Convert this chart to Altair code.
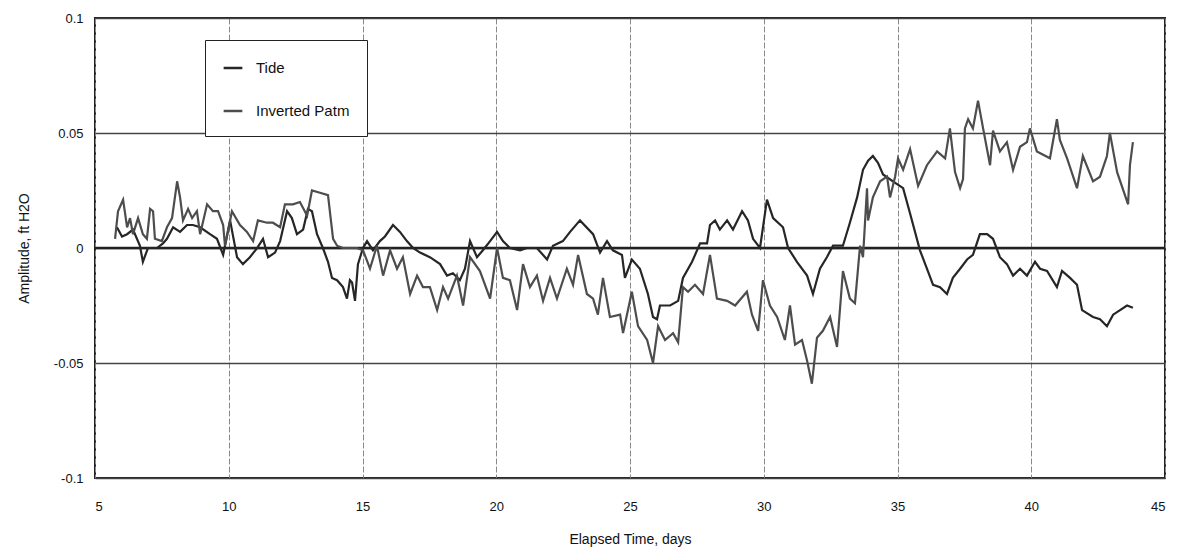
import altair as alt
import pandas as pd

series_names = ["Tide", "Inverted Patm"]

tide_days = [5.82, 6.01, 6.20, 6.42, 6.68, 6.79, 6.98, 7.32, 7.54, 7.69, 7.92, 8.18, 8.44, 8.66, 8.93,
             9.30, 9.56, 9.79, 10.05, 10.31, 10.53, 10.79, 11.06, 11.28, 11.47, 11.73, 11.92, 12.18,
             12.36, 12.55, 12.78, 12.96, 13.11, 13.30, 13.52, 13.71, 13.86, 14.05, 14.27, 14.42,
             14.53, 14.61, 14.72, 14.83, 15.02, 15.17, 15.39, 15.65, 15.84, 16.14, 16.40, 16.66,
             16.89, 17.15, 17.52, 17.90, 18.16, 18.38, 18.64, 18.83, 19.02, 19.28, 19.50, 19.77,
             20.03, 20.25, 20.51, 20.89, 21.15, 21.52, 21.90, 22.12, 22.49, 22.76, 23.13, 23.62,
             23.88, 24.14, 24.36, 24.70, 24.81, 25.07, 25.37, 25.67, 25.86, 26.01, 26.12, 26.50,
             26.80, 26.98, 27.32, 27.62, 27.88, 27.99, 28.18, 28.36, 28.63, 28.85, 29.19, 29.41,
             29.60, 29.86, 30.12, 30.35, 30.72, 30.91, 31.24, 31.62, 31.84, 32.10, 32.36, 32.59,
             32.96, 33.22, 33.49, 33.71, 33.90, 34.08, 34.27, 34.46, 34.83, 35.21, 35.47, 35.84,
             36.10, 36.33, 36.59, 36.85, 37.07, 37.34, 37.60, 37.82, 38.08, 38.35, 38.57, 38.83,
             39.09, 39.32, 39.58, 39.84, 40.14, 40.33, 40.59, 40.96, 41.15, 41.45, 41.71, 41.90,
             42.31, 42.57, 42.83, 43.06, 43.32, 43.58, 43.80]
tide_vals = [0.009, 0.005, 0.006, 0.008, 0.001, -0.006, 0.000, 0.000, 0.002, 0.004, 0.009, 0.007,
             0.010, 0.010, 0.009, 0.006, 0.004, -0.003, 0.012, -0.004, -0.007, -0.004, 0.000, 0.004,
             -0.004, -0.002, 0.003, 0.016, 0.013, 0.006, 0.008, 0.017, 0.016, 0.006, 0.000, -0.006,
             -0.013, -0.014, -0.017, -0.022, -0.014, -0.015, -0.023, -0.007, 0.000, 0.003, -0.001,
             0.003, 0.005, 0.010, 0.007, 0.003, 0.000, -0.002, -0.004, -0.007, -0.012, -0.011,
             -0.014, -0.009, 0.003, -0.004, -0.001, 0.003, 0.007, 0.003, 0.000, -0.001, 0.000,
             0.000, -0.005, 0.001, 0.003, 0.007, 0.012, 0.006, -0.002, 0.003, -0.001, -0.003,
             -0.013, -0.005, -0.009, -0.020, -0.030, -0.031, -0.025, -0.025, -0.023, -0.013,
             -0.006, 0.002, 0.002, 0.010, 0.012, 0.008, 0.012, 0.008, 0.016, 0.012, 0.004, 0.000,
             0.021, 0.013, 0.009, 0.000, -0.006, -0.012, -0.020, -0.009, -0.004, 0.001, 0.001,
             0.011, 0.022, 0.034, 0.038, 0.040, 0.037, 0.032, 0.029, 0.026, 0.015, -0.001, -0.009,
             -0.016, -0.017, -0.020, -0.013, -0.009, -0.005, -0.003, 0.006, 0.006, 0.004, -0.004,
             -0.007, -0.012, -0.009, -0.012, -0.006, -0.009, -0.010, -0.017, -0.010, -0.013,
             -0.016, -0.027, -0.030, -0.031, -0.034, -0.029, -0.027, -0.025, -0.026]

patm_days = [5.75, 5.86, 6.05, 6.20, 6.31, 6.42, 6.61, 6.79, 6.94, 7.06, 7.17, 7.24, 7.50, 7.69, 7.88,
             8.07, 8.18, 8.29, 8.48, 8.63, 8.81, 8.93, 9.19, 9.41, 9.60, 9.79, 9.86, 10.12, 10.42,
             10.68, 10.91, 11.09, 11.43, 11.65, 11.92, 12.10, 12.40, 12.66, 12.93, 13.11, 13.41,
             13.71, 13.90, 14.05, 14.27, 14.53, 14.79, 15.02, 15.28, 15.54, 15.77, 16.03, 16.29,
             16.51, 16.78, 17.04, 17.26, 17.52, 17.79, 18.01, 18.20, 18.53, 18.76, 19.02, 19.39,
             19.77, 20.03, 20.25, 20.51, 20.78, 21.00, 21.26, 21.52, 21.75, 22.01, 22.27, 22.64,
             22.87, 23.06, 23.39, 23.62, 23.80, 23.99, 24.25, 24.63, 24.74, 25.07, 25.30, 25.64,
             25.86, 26.05, 26.31, 26.61, 26.80, 26.98, 27.17, 27.43, 27.73, 27.99, 28.25, 28.63,
             28.93, 29.37, 29.56, 29.79, 29.97, 30.23, 30.50, 30.79, 30.98, 31.17, 31.43, 31.62,
             31.80, 31.99, 32.21, 32.48, 32.74, 32.96, 33.22, 33.41, 33.60, 33.71, 33.86, 33.90,
             34.08, 34.35, 34.61, 34.72, 34.91, 35.02, 35.21, 35.47, 35.77, 36.10, 36.48, 36.78,
             36.96, 37.15, 37.34, 37.45, 37.52, 37.64, 37.82, 38.01, 38.20, 38.46, 38.57, 38.83,
             39.09, 39.32, 39.58, 39.84, 39.95, 40.21, 40.70, 40.96, 41.07, 41.34, 41.71, 41.93,
             42.31, 42.57, 42.83, 42.94, 43.21, 43.62, 43.69, 43.80]
patm_vals = [0.004, 0.016, 0.021, 0.009, 0.013, 0.006, 0.013, 0.006, 0.004, 0.017, 0.016, 0.004,
             0.003, 0.009, 0.013, 0.029, 0.022, 0.012, 0.017, 0.013, 0.016, 0.006, 0.019, 0.016,
             0.016, 0.010, 0.001, 0.016, 0.010, 0.007, 0.003, 0.012, 0.011, 0.011, 0.009, 0.019,
             0.019, 0.020, 0.014, 0.025, 0.024, 0.023, 0.004, 0.001, 0.000, 0.000, 0.000, -0.001,
             -0.009, 0.001, -0.012, -0.001, -0.009, -0.004, -0.020, -0.012, -0.017, -0.017,
             -0.027, -0.017, -0.022, -0.012, -0.025, -0.004, -0.010, -0.022, 0.000, -0.013,
             -0.014, -0.027, -0.007, -0.017, -0.012, -0.023, -0.013, -0.022, -0.009, -0.016,
             -0.003, -0.020, -0.022, -0.029, -0.013, -0.030, -0.029, -0.037, -0.019, -0.034,
             -0.040, -0.050, -0.034, -0.040, -0.037, -0.041, -0.017, -0.019, -0.016, -0.020,
             -0.003, -0.022, -0.023, -0.025, -0.019, -0.029, -0.036, -0.014, -0.025, -0.030,
             -0.040, -0.025, -0.042, -0.040, -0.049, -0.059, -0.039, -0.036, -0.030, -0.043,
             -0.010, -0.022, -0.024, 0.001, -0.004, 0.026, 0.012, 0.022, 0.029, 0.031, 0.022,
             0.031, 0.039, 0.034, 0.043, 0.027, 0.036, 0.042, 0.039, 0.052, 0.033, 0.026, 0.030,
             0.052, 0.056, 0.052, 0.064, 0.052, 0.036, 0.051, 0.042, 0.046, 0.034, 0.044, 0.046,
             0.052, 0.042, 0.039, 0.056, 0.047, 0.039, 0.026, 0.040, 0.029, 0.031, 0.040, 0.050,
             0.033, 0.019, 0.036, 0.046]

x_ticks = [5, 10, 15, 20, 25, 30, 35, 40, 45]
y_ticks = [-0.1, -0.05, 0, 0.05, 0.1]

df = pd.concat([
    pd.DataFrame({"day": tide_days, "amp": tide_vals, "series": series_names[0]}),
    pd.DataFrame({"day": patm_days, "amp": patm_vals, "series": series_names[1]}),
])

FONT = "Liberation Sans Narrow, Liberation Sans, Arial, sans-serif"

x_enc = alt.X("day:Q", scale=alt.Scale(domain=[5, 45], nice=False),
              axis=alt.Axis(values=x_ticks, title="Elapsed Time, days", ticks=False,
                            domain=False, grid=True, gridColor="#8a8a8a", gridWidth=1,
                            gridDash=[6, 2], labelPadding=22, titlePadding=19,
                            labelFontSize=13, titleFontSize=14, labelFont=FONT, titleFont=FONT,
                            labelColor="#111", titleColor="#111", titleFontWeight="normal"))
y_enc = alt.Y("amp:Q", scale=alt.Scale(domain=[-0.1, 0.1], nice=False),
              axis=alt.Axis(values=y_ticks, title="Amplitude, ft H2O", ticks=False,
                            domain=False, grid=True, gridColor="#444", gridWidth=1.5,
                            labelExpr="datum.value == 0 ? '0' : toString(round(datum.value*100)/100)",
                            labelPadding=12, titlePadding=22, labelFontSize=13, titleFontSize=14,
                            labelFont=FONT, titleFont=FONT, labelColor="#111", titleColor="#111",
                            titleFontWeight="normal"))

lines = alt.Chart(df).mark_line(strokeWidth=2.2, interpolate="linear").encode(
    x=x_enc,
    y=y_enc,
    color=alt.Color("series:N",
                    scale=alt.Scale(domain=series_names, range=["#262626", "#4d4d4d"]),
                    legend=alt.Legend(title=None, orient="none", legendX=110, legendY=22,
                                      strokeColor="#222", fillColor="white",
                                      padding=17, rowPadding=24, symbolType="stroke",
                                      symbolStrokeWidth=2.5, symbolSize=350, labelFontSize=15,
                                      labelFont=FONT, labelColor="#111", labelOffset=12)),
)

zero_rule = alt.Chart(pd.DataFrame({"y0": [0]})).mark_rule(color="#222", strokeWidth=2.5).encode(
    y=alt.Y("y0:Q", scale=alt.Scale(domain=[-0.1, 0.1], nice=False))
)

chart = alt.layer(zero_rule, lines).properties(
    width=1070, height=460,
    padding={"left": 87, "top": 10, "right": 10, "bottom": 72},
    autosize=alt.AutoSizeParams(type="none"),
).configure_view(stroke="#222", strokeWidth=2)

chart.save("out.html", embed_options={"renderer": "svg", "actions": False})
